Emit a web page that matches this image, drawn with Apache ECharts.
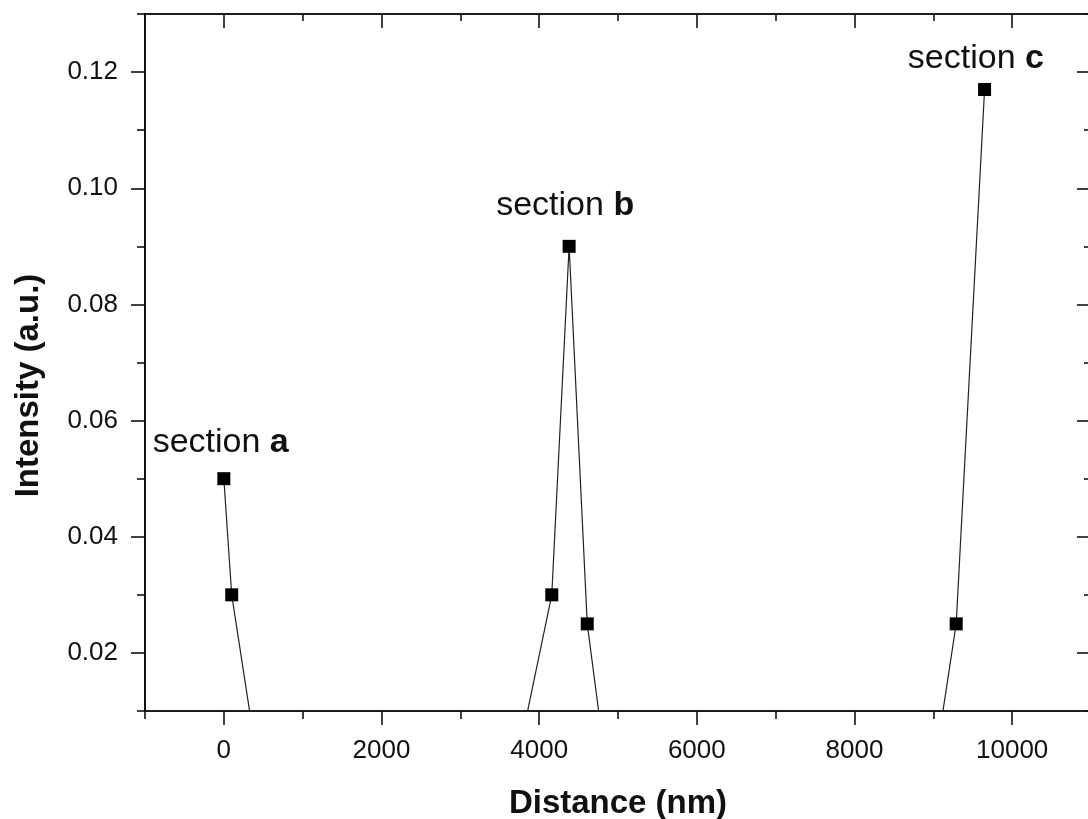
<!DOCTYPE html>
<html>
<head>
<meta charset="utf-8">
<script src="https://cdn.jsdelivr.net/npm/echarts@6/dist/echarts.min.js"></script>
<style>
  html, body { margin: 0; padding: 0; background: #fff; }
  #chart { width: 1088px; height: 819px; }
</style>
</head>
<body>
<div id="chart"></div>
<script>
// distance (nm) and intensity; the y = 0 points sit below the axis and get clipped
const distance = [0, 100, 440, 3700, 4160, 4380, 4610, 4850, 9010, 9290, 9650];
const intensity = [0.05, 0.03, 0, 0, 0.03, 0.09, 0.025, 0, 0, 0.025, 0.117];

const xMajorTicks = [0, 2000, 4000, 6000, 8000, 10000];
const xMinorTicks = [-1000, 1000, 3000, 5000, 7000, 9000, 11000];
const yMajorTicks = [0.02, 0.04, 0.06, 0.08, 0.10, 0.12];
const yMinorTicks = [0.01, 0.03, 0.05, 0.07, 0.09, 0.11, 0.13];

const sectionNames = ["a", "b", "c"];
const sectionLabelX = [-40, 4330, 9540];
const sectionLabelY = [0.0562, 0.097, 0.1224];

const INK = "#111";
const FONT = "Liberation Sans, Arial, Helvetica, sans-serif";

function xAxisDef(position, ticks, len, inside, labels) {
  return {
    type: "value",
    position,
    min: -1000,
    max: 11000,
    interval: 1000,
    splitLine: { show: false },
    axisLine: { show: true, onZero: false, lineStyle: { color: INK, width: 1.6 } },
    axisTick: { show: true, inside, length: len, customValues: ticks, lineStyle: { color: INK, width: 1.6 } },
    axisLabel: labels
      ? { show: true, customValues: ticks, margin: 27, fontSize: 26, color: INK, fontFamily: FONT,
          formatter: (v) => String(v) }
      : { show: false },
  };
}

function yAxisDef(position, ticks, len, inside, labels) {
  return {
    type: "value",
    position,
    min: 0.01,
    max: 0.13,
    interval: 0.01,
    splitLine: { show: false },
    axisLine: { show: true, onZero: false, lineStyle: { color: INK, width: 2 } },
    axisTick: { show: true, inside, length: len, customValues: ticks, lineStyle: { color: INK, width: 1.6 } },
    axisLabel: labels
      ? { show: true, customValues: ticks, margin: 27, fontSize: 26, color: INK, fontFamily: FONT,
          formatter: (v) => v.toFixed(2) }
      : { show: false },
  };
}

const xAxes = [
  xAxisDef("bottom", xMajorTicks, 14, false, true),
  xAxisDef("bottom", xMinorTicks, 8, false, false),
  xAxisDef("top", xMajorTicks, 14, true, false),
  xAxisDef("top", xMinorTicks, 7, true, false),
];
Object.assign(xAxes[0], {
  name: "Distance (nm)",
  nameLocation: "middle",
  nameGap: 76,
  nameTextStyle: { fontSize: 33, fontWeight: "bold", color: INK, fontFamily: FONT },
});

const yAxes = [
  yAxisDef("left", yMajorTicks, 14, false, true),
  yAxisDef("left", yMinorTicks, 8, false, false),
  yAxisDef("right", yMajorTicks, 14, true, false),
  yAxisDef("right", yMinorTicks, 7, true, false),
];
Object.assign(yAxes[0], {
  name: "Intensity (a.u.)",
  nameLocation: "middle",
  nameGap: 100,
  nameRotate: 90,
  nameTextStyle: { fontSize: 33, fontWeight: "bold", color: INK, fontFamily: FONT, padding: [0, 46, 0, 0] },
});

const chart = echarts.init(document.getElementById("chart"), null, { renderer: "canvas" });
chart.setOption({
  backgroundColor: "#fff",
  animation: false,
  grid: { left: 145, top: 14, width: 946, bottom: 108, containLabel: false, outerBoundsMode: "none" },
  xAxis: xAxes,
  yAxis: yAxes,
  series: [
    {
      type: "line",
      xAxisIndex: 0,
      yAxisIndex: 0,
      clip: true,
      symbol: "rect",
      symbolSize: 13,
      itemStyle: { color: "#000" },
      lineStyle: { color: "#222", width: 1.2 },
      data: distance.map((d, i) => [d, intensity[i]]),
      markPoint: {
        symbol: "circle",
        symbolSize: 1,
        itemStyle: { color: "rgba(0,0,0,0)" },
        label: {
          show: true,
          position: "inside",
          formatter: (p) => `{r|section }{b|${p.name}}`,
          rich: {
            r: { fontSize: 34, color: INK, fontFamily: FONT },
            b: { fontSize: 34, color: INK, fontFamily: FONT, fontWeight: "bold" },
          },
        },
        data: sectionNames.map((n, i) => ({ name: n, coord: [sectionLabelX[i], sectionLabelY[i]] })),
      },
    },
  ],
});
</script>
</body>
</html>
